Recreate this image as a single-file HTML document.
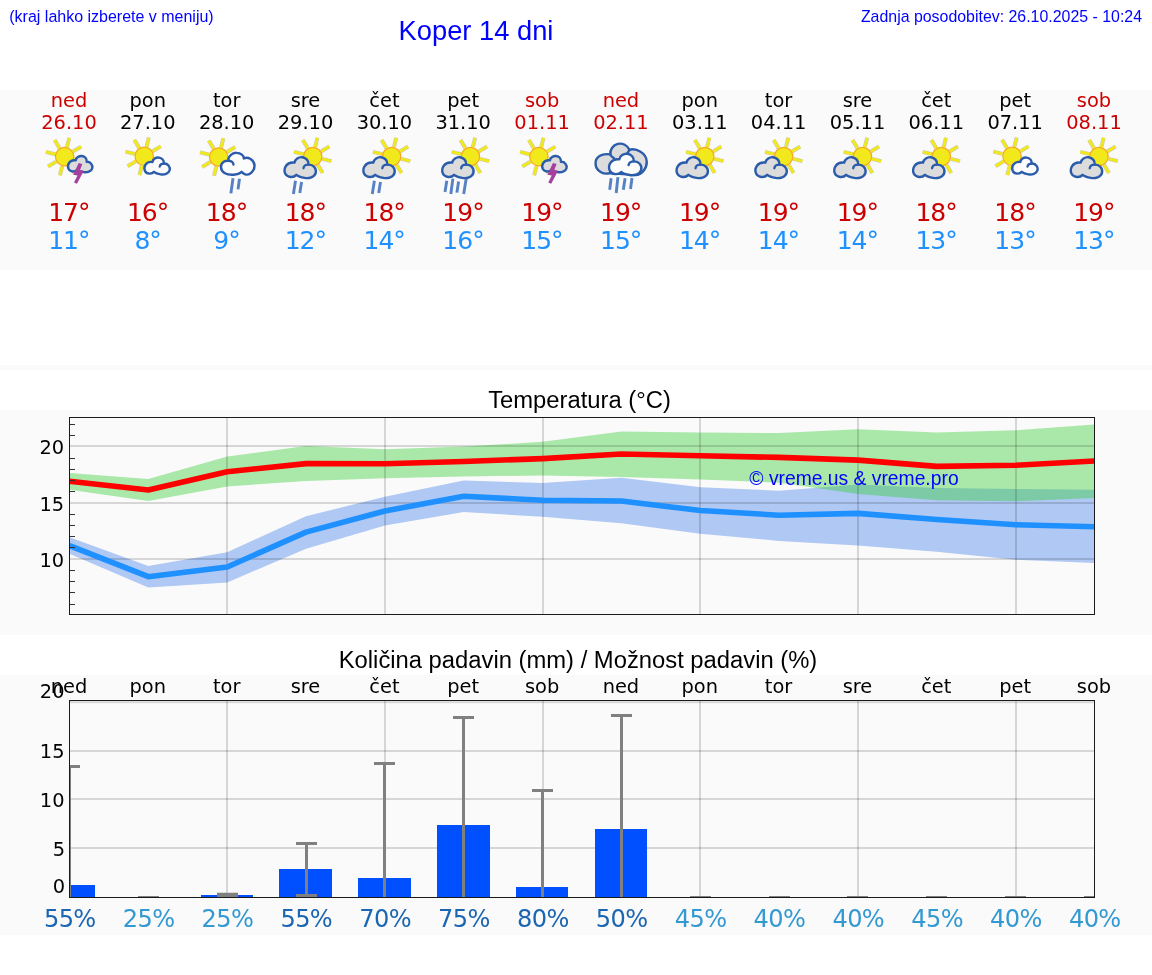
<!DOCTYPE html>
<html lang="sl"><head><meta charset="utf-8"><title>Koper 14 dni</title>
<style>html,body{margin:0;padding:0;background:#fff}svg{display:block}</style></head><body>
<svg width="1152" height="975" viewBox="0 0 1152 975">
<rect width="1152" height="975" fill="#fff"/>
<rect x="0" y="90" width="1152" height="180" fill="#fafafa"/>
<rect x="0" y="365" width="1152" height="5" fill="#fafafa"/>
<rect x="0" y="410" width="1152" height="225" fill="#fafafa"/>
<rect x="0" y="675" width="1152" height="260" fill="#fafafa"/>
<text x="9.3" y="20.96" transform="scale(1,1.04)" font-family="Liberation Sans, Arial, sans-serif" font-size="16" fill="#0000ff">(kraj lahko izberete v meniju)</text>
<text x="476" y="38.37" transform="scale(1,1.04)" font-family="Liberation Sans, Arial, sans-serif" font-size="27.3" fill="#0000ff" text-anchor="middle">Koper 14 dni</text>
<text x="1142" y="20.87" transform="scale(1,1.04)" font-family="Liberation Sans, Arial, sans-serif" font-size="15.9" fill="#0000ff" text-anchor="end">Zadnja posodobitev: 26.10.2025 - 10:24</text>
<text x="69.0" y="107" font-family="DejaVu Sans, Liberation Sans, sans-serif" font-size="19.4" fill="#cc0000" text-anchor="middle">ned</text>
<text x="69.0" y="129" font-family="DejaVu Sans, Liberation Sans, sans-serif" font-size="19.4" fill="#cc0000" text-anchor="middle">26.10</text>
<text x="68.8" y="221.2" font-family="DejaVu Sans, Liberation Sans, sans-serif" font-size="25" letter-spacing="-1" fill="#cc0000" text-anchor="middle">17°</text>
<text x="68.8" y="249" font-family="DejaVu Sans, Liberation Sans, sans-serif" font-size="25" letter-spacing="-1" fill="#1e90ff" text-anchor="middle">11°</text>
<text x="147.8" y="107" font-family="DejaVu Sans, Liberation Sans, sans-serif" font-size="19.4" fill="#000" text-anchor="middle">pon</text>
<text x="147.8" y="129" font-family="DejaVu Sans, Liberation Sans, sans-serif" font-size="19.4" fill="#000" text-anchor="middle">27.10</text>
<text x="147.6" y="221.2" font-family="DejaVu Sans, Liberation Sans, sans-serif" font-size="25" letter-spacing="-1" fill="#cc0000" text-anchor="middle">16°</text>
<text x="147.6" y="249" font-family="DejaVu Sans, Liberation Sans, sans-serif" font-size="25" letter-spacing="-1" fill="#1e90ff" text-anchor="middle">8°</text>
<text x="226.7" y="107" font-family="DejaVu Sans, Liberation Sans, sans-serif" font-size="19.4" fill="#000" text-anchor="middle">tor</text>
<text x="226.7" y="129" font-family="DejaVu Sans, Liberation Sans, sans-serif" font-size="19.4" fill="#000" text-anchor="middle">28.10</text>
<text x="226.5" y="221.2" font-family="DejaVu Sans, Liberation Sans, sans-serif" font-size="25" letter-spacing="-1" fill="#cc0000" text-anchor="middle">18°</text>
<text x="226.5" y="249" font-family="DejaVu Sans, Liberation Sans, sans-serif" font-size="25" letter-spacing="-1" fill="#1e90ff" text-anchor="middle">9°</text>
<text x="305.5" y="107" font-family="DejaVu Sans, Liberation Sans, sans-serif" font-size="19.4" fill="#000" text-anchor="middle">sre</text>
<text x="305.5" y="129" font-family="DejaVu Sans, Liberation Sans, sans-serif" font-size="19.4" fill="#000" text-anchor="middle">29.10</text>
<text x="305.3" y="221.2" font-family="DejaVu Sans, Liberation Sans, sans-serif" font-size="25" letter-spacing="-1" fill="#cc0000" text-anchor="middle">18°</text>
<text x="305.3" y="249" font-family="DejaVu Sans, Liberation Sans, sans-serif" font-size="25" letter-spacing="-1" fill="#1e90ff" text-anchor="middle">12°</text>
<text x="384.4" y="107" font-family="DejaVu Sans, Liberation Sans, sans-serif" font-size="19.4" fill="#000" text-anchor="middle">čet</text>
<text x="384.4" y="129" font-family="DejaVu Sans, Liberation Sans, sans-serif" font-size="19.4" fill="#000" text-anchor="middle">30.10</text>
<text x="384.2" y="221.2" font-family="DejaVu Sans, Liberation Sans, sans-serif" font-size="25" letter-spacing="-1" fill="#cc0000" text-anchor="middle">18°</text>
<text x="384.2" y="249" font-family="DejaVu Sans, Liberation Sans, sans-serif" font-size="25" letter-spacing="-1" fill="#1e90ff" text-anchor="middle">14°</text>
<text x="463.2" y="107" font-family="DejaVu Sans, Liberation Sans, sans-serif" font-size="19.4" fill="#000" text-anchor="middle">pet</text>
<text x="463.2" y="129" font-family="DejaVu Sans, Liberation Sans, sans-serif" font-size="19.4" fill="#000" text-anchor="middle">31.10</text>
<text x="463.0" y="221.2" font-family="DejaVu Sans, Liberation Sans, sans-serif" font-size="25" letter-spacing="-1" fill="#cc0000" text-anchor="middle">19°</text>
<text x="463.0" y="249" font-family="DejaVu Sans, Liberation Sans, sans-serif" font-size="25" letter-spacing="-1" fill="#1e90ff" text-anchor="middle">16°</text>
<text x="542.1" y="107" font-family="DejaVu Sans, Liberation Sans, sans-serif" font-size="19.4" fill="#cc0000" text-anchor="middle">sob</text>
<text x="542.1" y="129" font-family="DejaVu Sans, Liberation Sans, sans-serif" font-size="19.4" fill="#cc0000" text-anchor="middle">01.11</text>
<text x="541.9" y="221.2" font-family="DejaVu Sans, Liberation Sans, sans-serif" font-size="25" letter-spacing="-1" fill="#cc0000" text-anchor="middle">19°</text>
<text x="541.9" y="249" font-family="DejaVu Sans, Liberation Sans, sans-serif" font-size="25" letter-spacing="-1" fill="#1e90ff" text-anchor="middle">15°</text>
<text x="620.9" y="107" font-family="DejaVu Sans, Liberation Sans, sans-serif" font-size="19.4" fill="#cc0000" text-anchor="middle">ned</text>
<text x="620.9" y="129" font-family="DejaVu Sans, Liberation Sans, sans-serif" font-size="19.4" fill="#cc0000" text-anchor="middle">02.11</text>
<text x="620.7" y="221.2" font-family="DejaVu Sans, Liberation Sans, sans-serif" font-size="25" letter-spacing="-1" fill="#cc0000" text-anchor="middle">19°</text>
<text x="620.7" y="249" font-family="DejaVu Sans, Liberation Sans, sans-serif" font-size="25" letter-spacing="-1" fill="#1e90ff" text-anchor="middle">15°</text>
<text x="699.8" y="107" font-family="DejaVu Sans, Liberation Sans, sans-serif" font-size="19.4" fill="#000" text-anchor="middle">pon</text>
<text x="699.8" y="129" font-family="DejaVu Sans, Liberation Sans, sans-serif" font-size="19.4" fill="#000" text-anchor="middle">03.11</text>
<text x="699.6" y="221.2" font-family="DejaVu Sans, Liberation Sans, sans-serif" font-size="25" letter-spacing="-1" fill="#cc0000" text-anchor="middle">19°</text>
<text x="699.6" y="249" font-family="DejaVu Sans, Liberation Sans, sans-serif" font-size="25" letter-spacing="-1" fill="#1e90ff" text-anchor="middle">14°</text>
<text x="778.6" y="107" font-family="DejaVu Sans, Liberation Sans, sans-serif" font-size="19.4" fill="#000" text-anchor="middle">tor</text>
<text x="778.6" y="129" font-family="DejaVu Sans, Liberation Sans, sans-serif" font-size="19.4" fill="#000" text-anchor="middle">04.11</text>
<text x="778.4" y="221.2" font-family="DejaVu Sans, Liberation Sans, sans-serif" font-size="25" letter-spacing="-1" fill="#cc0000" text-anchor="middle">19°</text>
<text x="778.4" y="249" font-family="DejaVu Sans, Liberation Sans, sans-serif" font-size="25" letter-spacing="-1" fill="#1e90ff" text-anchor="middle">14°</text>
<text x="857.5" y="107" font-family="DejaVu Sans, Liberation Sans, sans-serif" font-size="19.4" fill="#000" text-anchor="middle">sre</text>
<text x="857.5" y="129" font-family="DejaVu Sans, Liberation Sans, sans-serif" font-size="19.4" fill="#000" text-anchor="middle">05.11</text>
<text x="857.3" y="221.2" font-family="DejaVu Sans, Liberation Sans, sans-serif" font-size="25" letter-spacing="-1" fill="#cc0000" text-anchor="middle">19°</text>
<text x="857.3" y="249" font-family="DejaVu Sans, Liberation Sans, sans-serif" font-size="25" letter-spacing="-1" fill="#1e90ff" text-anchor="middle">14°</text>
<text x="936.3" y="107" font-family="DejaVu Sans, Liberation Sans, sans-serif" font-size="19.4" fill="#000" text-anchor="middle">čet</text>
<text x="936.3" y="129" font-family="DejaVu Sans, Liberation Sans, sans-serif" font-size="19.4" fill="#000" text-anchor="middle">06.11</text>
<text x="936.1" y="221.2" font-family="DejaVu Sans, Liberation Sans, sans-serif" font-size="25" letter-spacing="-1" fill="#cc0000" text-anchor="middle">18°</text>
<text x="936.1" y="249" font-family="DejaVu Sans, Liberation Sans, sans-serif" font-size="25" letter-spacing="-1" fill="#1e90ff" text-anchor="middle">13°</text>
<text x="1015.2" y="107" font-family="DejaVu Sans, Liberation Sans, sans-serif" font-size="19.4" fill="#000" text-anchor="middle">pet</text>
<text x="1015.2" y="129" font-family="DejaVu Sans, Liberation Sans, sans-serif" font-size="19.4" fill="#000" text-anchor="middle">07.11</text>
<text x="1015.0" y="221.2" font-family="DejaVu Sans, Liberation Sans, sans-serif" font-size="25" letter-spacing="-1" fill="#cc0000" text-anchor="middle">18°</text>
<text x="1015.0" y="249" font-family="DejaVu Sans, Liberation Sans, sans-serif" font-size="25" letter-spacing="-1" fill="#1e90ff" text-anchor="middle">13°</text>
<text x="1094.0" y="107" font-family="DejaVu Sans, Liberation Sans, sans-serif" font-size="19.4" fill="#cc0000" text-anchor="middle">sob</text>
<text x="1094.0" y="129" font-family="DejaVu Sans, Liberation Sans, sans-serif" font-size="19.4" fill="#cc0000" text-anchor="middle">08.11</text>
<text x="1093.8" y="221.2" font-family="DejaVu Sans, Liberation Sans, sans-serif" font-size="25" letter-spacing="-1" fill="#cc0000" text-anchor="middle">19°</text>
<text x="1093.8" y="249" font-family="DejaVu Sans, Liberation Sans, sans-serif" font-size="25" letter-spacing="-1" fill="#1e90ff" text-anchor="middle">13°</text>
<line x1="74.11" y1="158.97" x2="83.33" y2="161.27" stroke="#9a9a88" stroke-opacity="0.5" stroke-width="4.0"/><line x1="74.11" y1="158.97" x2="83.33" y2="161.27" stroke="#f1e91b" stroke-width="2.9"/><line x1="69.65" y1="165.00" x2="74.54" y2="173.14" stroke="#9a9a88" stroke-opacity="0.5" stroke-width="4.0"/><line x1="69.65" y1="165.00" x2="74.54" y2="173.14" stroke="#f1e91b" stroke-width="2.9"/><line x1="62.23" y1="166.11" x2="59.93" y2="175.33" stroke="#9a9a88" stroke-opacity="0.5" stroke-width="4.0"/><line x1="62.23" y1="166.11" x2="59.93" y2="175.33" stroke="#f1e91b" stroke-width="2.9"/><line x1="56.20" y1="161.65" x2="48.06" y2="166.54" stroke="#9a9a88" stroke-opacity="0.5" stroke-width="4.0"/><line x1="56.20" y1="161.65" x2="48.06" y2="166.54" stroke="#f1e91b" stroke-width="2.9"/><line x1="55.09" y1="154.23" x2="45.87" y2="151.93" stroke="#9a9a88" stroke-opacity="0.5" stroke-width="4.0"/><line x1="55.09" y1="154.23" x2="45.87" y2="151.93" stroke="#f1e91b" stroke-width="2.9"/><line x1="59.55" y1="148.20" x2="54.66" y2="140.06" stroke="#9a9a88" stroke-opacity="0.5" stroke-width="4.0"/><line x1="59.55" y1="148.20" x2="54.66" y2="140.06" stroke="#f1e91b" stroke-width="2.9"/><line x1="66.97" y1="147.09" x2="69.27" y2="137.87" stroke="#9a9a88" stroke-opacity="0.5" stroke-width="4.0"/><line x1="66.97" y1="147.09" x2="69.27" y2="137.87" stroke="#f1e91b" stroke-width="2.9"/><line x1="73.00" y1="151.55" x2="81.14" y2="146.66" stroke="#9a9a88" stroke-opacity="0.5" stroke-width="4.0"/><line x1="73.00" y1="151.55" x2="81.14" y2="146.66" stroke="#f1e91b" stroke-width="2.9"/><circle cx="64.60" cy="156.60" r="9.2" fill="#f1e91b" stroke="#f6a821" stroke-width="1.2"/><g transform="translate(58.96,136.34) scale(0.05599)" stroke="#2b5cab" stroke-width="42.9" stroke-linejoin="round" stroke-linecap="round"><path d="M325 598C290 640 200 640 170 580C140 510 190 410 300 428C305 380 360 345 410 352C460 358 500 400 495 455C560 450 610 510 595 570C580 630 500 650 440 640C390 632 350 620 325 598Z" fill="#dcdcdc"/></g><polygon points="78.68,162.98 82.37,164.02 80.03,170.05 83.85,170.79 76.95,183.84 74.00,182.61 77.45,175.41 73.14,174.79" fill="#a5409f"/>
<line x1="153.71" y1="158.67" x2="162.93" y2="160.97" stroke="#9a9a88" stroke-opacity="0.5" stroke-width="4.0"/><line x1="153.71" y1="158.67" x2="162.93" y2="160.97" stroke="#f1e91b" stroke-width="2.9"/><line x1="149.25" y1="164.70" x2="154.14" y2="172.84" stroke="#9a9a88" stroke-opacity="0.5" stroke-width="4.0"/><line x1="149.25" y1="164.70" x2="154.14" y2="172.84" stroke="#f1e91b" stroke-width="2.9"/><line x1="141.83" y1="165.81" x2="139.53" y2="175.03" stroke="#9a9a88" stroke-opacity="0.5" stroke-width="4.0"/><line x1="141.83" y1="165.81" x2="139.53" y2="175.03" stroke="#f1e91b" stroke-width="2.9"/><line x1="135.80" y1="161.35" x2="127.66" y2="166.24" stroke="#9a9a88" stroke-opacity="0.5" stroke-width="4.0"/><line x1="135.80" y1="161.35" x2="127.66" y2="166.24" stroke="#f1e91b" stroke-width="2.9"/><line x1="134.69" y1="153.93" x2="125.47" y2="151.63" stroke="#9a9a88" stroke-opacity="0.5" stroke-width="4.0"/><line x1="134.69" y1="153.93" x2="125.47" y2="151.63" stroke="#f1e91b" stroke-width="2.9"/><line x1="139.15" y1="147.90" x2="134.26" y2="139.76" stroke="#9a9a88" stroke-opacity="0.5" stroke-width="4.0"/><line x1="139.15" y1="147.90" x2="134.26" y2="139.76" stroke="#f1e91b" stroke-width="2.9"/><line x1="146.57" y1="146.79" x2="148.87" y2="137.57" stroke="#9a9a88" stroke-opacity="0.5" stroke-width="4.0"/><line x1="146.57" y1="146.79" x2="148.87" y2="137.57" stroke="#f1e91b" stroke-width="2.9"/><line x1="152.60" y1="151.25" x2="160.74" y2="146.36" stroke="#9a9a88" stroke-opacity="0.5" stroke-width="4.0"/><line x1="152.60" y1="151.25" x2="160.74" y2="146.36" stroke="#f1e91b" stroke-width="2.9"/><circle cx="144.20" cy="156.30" r="9.2" fill="#f1e91b" stroke="#f6a821" stroke-width="1.2"/><g transform="translate(135.06,137.12) scale(0.05815)" stroke="#2b5cab" stroke-width="41.3" stroke-linejoin="round" stroke-linecap="round"><path d="M325 598C290 640 200 640 170 580C140 510 190 410 300 428C305 380 360 345 410 352C460 358 500 400 495 455C560 450 610 510 595 570C580 630 500 650 440 640C390 632 350 620 325 598Z" fill="#fcfcfc"/><path d="M495 455C465 455 428 470 425 505" fill="none"/></g>
<line x1="228.20" y1="159.37" x2="237.42" y2="161.67" stroke="#9a9a88" stroke-opacity="0.5" stroke-width="4.0"/><line x1="228.20" y1="159.37" x2="237.42" y2="161.67" stroke="#f1e91b" stroke-width="2.9"/><line x1="223.74" y1="165.40" x2="228.63" y2="173.54" stroke="#9a9a88" stroke-opacity="0.5" stroke-width="4.0"/><line x1="223.74" y1="165.40" x2="228.63" y2="173.54" stroke="#f1e91b" stroke-width="2.9"/><line x1="216.32" y1="166.51" x2="214.02" y2="175.73" stroke="#9a9a88" stroke-opacity="0.5" stroke-width="4.0"/><line x1="216.32" y1="166.51" x2="214.02" y2="175.73" stroke="#f1e91b" stroke-width="2.9"/><line x1="210.29" y1="162.05" x2="202.15" y2="166.94" stroke="#9a9a88" stroke-opacity="0.5" stroke-width="4.0"/><line x1="210.29" y1="162.05" x2="202.15" y2="166.94" stroke="#f1e91b" stroke-width="2.9"/><line x1="209.18" y1="154.63" x2="199.97" y2="152.33" stroke="#9a9a88" stroke-opacity="0.5" stroke-width="4.0"/><line x1="209.18" y1="154.63" x2="199.97" y2="152.33" stroke="#f1e91b" stroke-width="2.9"/><line x1="213.64" y1="148.60" x2="208.75" y2="140.46" stroke="#9a9a88" stroke-opacity="0.5" stroke-width="4.0"/><line x1="213.64" y1="148.60" x2="208.75" y2="140.46" stroke="#f1e91b" stroke-width="2.9"/><line x1="221.06" y1="147.49" x2="223.36" y2="138.27" stroke="#9a9a88" stroke-opacity="0.5" stroke-width="4.0"/><line x1="221.06" y1="147.49" x2="223.36" y2="138.27" stroke="#f1e91b" stroke-width="2.9"/><line x1="227.09" y1="151.95" x2="235.24" y2="147.06" stroke="#9a9a88" stroke-opacity="0.5" stroke-width="4.0"/><line x1="227.09" y1="151.95" x2="235.24" y2="147.06" stroke="#f1e91b" stroke-width="2.9"/><circle cx="218.69" cy="157.00" r="9.2" fill="#f1e91b" stroke="#f6a821" stroke-width="1.2"/><g transform="translate(195.03,132.02) scale(0.07179)" stroke="#2b5cab" stroke-width="33.4" stroke-linejoin="round" stroke-linecap="round"><path d="M650 555C600 600 480 610 410 570C350 535 345 450 400 415C420 402 445 398 465 400C455 340 520 285 580 290C640 292 680 330 680 368C740 340 820 390 828 460C835 540 760 610 700 590C680 582 660 570 650 555Z" fill="#fcfcfc"/><path d="M465 400C500 400 535 420 535 452" fill="none"/></g><line x1="233.0" y1="178.3" x2="230.9" y2="193.4" stroke="#3f6fbb" stroke-opacity="0.88" stroke-width="2.9"/><line x1="239.5" y1="178.7" x2="238.0" y2="189.4" stroke="#3f6fbb" stroke-opacity="0.88" stroke-width="2.9"/>
<line x1="322.25" y1="158.87" x2="331.47" y2="161.17" stroke="#9a9a88" stroke-opacity="0.5" stroke-width="4.0"/><line x1="322.25" y1="158.87" x2="331.47" y2="161.17" stroke="#f1e91b" stroke-width="2.9"/><line x1="317.79" y1="164.90" x2="322.68" y2="173.04" stroke="#9a9a88" stroke-opacity="0.5" stroke-width="4.0"/><line x1="317.79" y1="164.90" x2="322.68" y2="173.04" stroke="#f1e91b" stroke-width="2.9"/><line x1="310.37" y1="166.01" x2="308.07" y2="175.23" stroke="#9a9a88" stroke-opacity="0.5" stroke-width="4.0"/><line x1="310.37" y1="166.01" x2="308.07" y2="175.23" stroke="#f1e91b" stroke-width="2.9"/><line x1="304.34" y1="161.55" x2="296.20" y2="166.44" stroke="#9a9a88" stroke-opacity="0.5" stroke-width="4.0"/><line x1="304.34" y1="161.55" x2="296.20" y2="166.44" stroke="#f1e91b" stroke-width="2.9"/><line x1="303.23" y1="154.13" x2="294.01" y2="151.83" stroke="#9a9a88" stroke-opacity="0.5" stroke-width="4.0"/><line x1="303.23" y1="154.13" x2="294.01" y2="151.83" stroke="#f1e91b" stroke-width="2.9"/><line x1="307.69" y1="148.10" x2="302.80" y2="139.96" stroke="#9a9a88" stroke-opacity="0.5" stroke-width="4.0"/><line x1="307.69" y1="148.10" x2="302.80" y2="139.96" stroke="#f1e91b" stroke-width="2.9"/><line x1="315.11" y1="146.99" x2="317.41" y2="137.77" stroke="#9a9a88" stroke-opacity="0.5" stroke-width="4.0"/><line x1="315.11" y1="146.99" x2="317.41" y2="137.77" stroke="#f1e91b" stroke-width="2.9"/><line x1="321.14" y1="151.45" x2="329.28" y2="146.56" stroke="#9a9a88" stroke-opacity="0.5" stroke-width="4.0"/><line x1="321.14" y1="151.45" x2="329.28" y2="146.56" stroke="#f1e91b" stroke-width="2.9"/><circle cx="312.74" cy="156.50" r="9.2" fill="#f1e91b" stroke="#f6a821" stroke-width="1.2"/><g transform="translate(272.99,131.95) scale(0.07179)" stroke="#2b5cab" stroke-width="33.4" stroke-linejoin="round" stroke-linecap="round"><path d="M325 598C290 640 200 640 170 580C140 510 190 410 300 428C305 380 360 345 410 352C460 358 500 400 495 455C560 450 610 510 595 570C580 630 500 650 440 640C390 632 350 620 325 598Z" fill="#dcdcdc"/><path d="M495 455C465 455 428 470 425 505" fill="none"/></g><line x1="295.5" y1="180.8" x2="293.4" y2="194.1" stroke="#3f6fbb" stroke-opacity="0.88" stroke-width="2.9"/><line x1="301.6" y1="181.9" x2="299.8" y2="193.0" stroke="#3f6fbb" stroke-opacity="0.88" stroke-width="2.9"/>
<line x1="401.09" y1="158.87" x2="410.31" y2="161.17" stroke="#9a9a88" stroke-opacity="0.5" stroke-width="4.0"/><line x1="401.09" y1="158.87" x2="410.31" y2="161.17" stroke="#f1e91b" stroke-width="2.9"/><line x1="396.63" y1="164.90" x2="401.52" y2="173.04" stroke="#9a9a88" stroke-opacity="0.5" stroke-width="4.0"/><line x1="396.63" y1="164.90" x2="401.52" y2="173.04" stroke="#f1e91b" stroke-width="2.9"/><line x1="389.21" y1="166.01" x2="386.92" y2="175.23" stroke="#9a9a88" stroke-opacity="0.5" stroke-width="4.0"/><line x1="389.21" y1="166.01" x2="386.92" y2="175.23" stroke="#f1e91b" stroke-width="2.9"/><line x1="383.18" y1="161.55" x2="375.04" y2="166.44" stroke="#9a9a88" stroke-opacity="0.5" stroke-width="4.0"/><line x1="383.18" y1="161.55" x2="375.04" y2="166.44" stroke="#f1e91b" stroke-width="2.9"/><line x1="382.08" y1="154.13" x2="372.86" y2="151.83" stroke="#9a9a88" stroke-opacity="0.5" stroke-width="4.0"/><line x1="382.08" y1="154.13" x2="372.86" y2="151.83" stroke="#f1e91b" stroke-width="2.9"/><line x1="386.54" y1="148.10" x2="381.64" y2="139.96" stroke="#9a9a88" stroke-opacity="0.5" stroke-width="4.0"/><line x1="386.54" y1="148.10" x2="381.64" y2="139.96" stroke="#f1e91b" stroke-width="2.9"/><line x1="393.96" y1="146.99" x2="396.25" y2="137.77" stroke="#9a9a88" stroke-opacity="0.5" stroke-width="4.0"/><line x1="393.96" y1="146.99" x2="396.25" y2="137.77" stroke="#f1e91b" stroke-width="2.9"/><line x1="399.98" y1="151.45" x2="408.13" y2="146.56" stroke="#9a9a88" stroke-opacity="0.5" stroke-width="4.0"/><line x1="399.98" y1="151.45" x2="408.13" y2="146.56" stroke="#f1e91b" stroke-width="2.9"/><circle cx="391.58" cy="156.50" r="9.2" fill="#f1e91b" stroke="#f6a821" stroke-width="1.2"/><g transform="translate(351.83,131.95) scale(0.07179)" stroke="#2b5cab" stroke-width="33.4" stroke-linejoin="round" stroke-linecap="round"><path d="M325 598C290 640 200 640 170 580C140 510 190 410 300 428C305 380 360 345 410 352C460 358 500 400 495 455C560 450 610 510 595 570C580 630 500 650 440 640C390 632 350 620 325 598Z" fill="#dcdcdc"/><path d="M495 455C465 455 428 470 425 505" fill="none"/></g><line x1="374.4" y1="180.8" x2="372.3" y2="194.1" stroke="#3f6fbb" stroke-opacity="0.88" stroke-width="2.9"/><line x1="380.5" y1="181.9" x2="378.7" y2="193.0" stroke="#3f6fbb" stroke-opacity="0.88" stroke-width="2.9"/>
<line x1="479.94" y1="158.87" x2="489.16" y2="161.17" stroke="#9a9a88" stroke-opacity="0.5" stroke-width="4.0"/><line x1="479.94" y1="158.87" x2="489.16" y2="161.17" stroke="#f1e91b" stroke-width="2.9"/><line x1="475.48" y1="164.90" x2="480.37" y2="173.04" stroke="#9a9a88" stroke-opacity="0.5" stroke-width="4.0"/><line x1="475.48" y1="164.90" x2="480.37" y2="173.04" stroke="#f1e91b" stroke-width="2.9"/><line x1="468.06" y1="166.01" x2="465.76" y2="175.23" stroke="#9a9a88" stroke-opacity="0.5" stroke-width="4.0"/><line x1="468.06" y1="166.01" x2="465.76" y2="175.23" stroke="#f1e91b" stroke-width="2.9"/><line x1="462.03" y1="161.55" x2="453.89" y2="166.44" stroke="#9a9a88" stroke-opacity="0.5" stroke-width="4.0"/><line x1="462.03" y1="161.55" x2="453.89" y2="166.44" stroke="#f1e91b" stroke-width="2.9"/><line x1="460.92" y1="154.13" x2="451.70" y2="151.83" stroke="#9a9a88" stroke-opacity="0.5" stroke-width="4.0"/><line x1="460.92" y1="154.13" x2="451.70" y2="151.83" stroke="#f1e91b" stroke-width="2.9"/><line x1="465.38" y1="148.10" x2="460.49" y2="139.96" stroke="#9a9a88" stroke-opacity="0.5" stroke-width="4.0"/><line x1="465.38" y1="148.10" x2="460.49" y2="139.96" stroke="#f1e91b" stroke-width="2.9"/><line x1="472.80" y1="146.99" x2="475.10" y2="137.77" stroke="#9a9a88" stroke-opacity="0.5" stroke-width="4.0"/><line x1="472.80" y1="146.99" x2="475.10" y2="137.77" stroke="#f1e91b" stroke-width="2.9"/><line x1="478.83" y1="151.45" x2="486.97" y2="146.56" stroke="#9a9a88" stroke-opacity="0.5" stroke-width="4.0"/><line x1="478.83" y1="151.45" x2="486.97" y2="146.56" stroke="#f1e91b" stroke-width="2.9"/><circle cx="470.43" cy="156.50" r="9.2" fill="#f1e91b" stroke="#f6a821" stroke-width="1.2"/><g transform="translate(430.68,131.95) scale(0.07179)" stroke="#2b5cab" stroke-width="33.4" stroke-linejoin="round" stroke-linecap="round"><path d="M325 598C290 640 200 640 170 580C140 510 190 410 300 428C305 380 360 345 410 352C460 358 500 400 495 455C560 450 610 510 595 570C580 630 500 650 440 640C390 632 350 620 325 598Z" fill="#dcdcdc"/><path d="M495 455C465 455 428 470 425 505" fill="none"/></g><line x1="446.8" y1="180.8" x2="445.0" y2="191.9" stroke="#3f6fbb" stroke-opacity="0.88" stroke-width="2.9"/><line x1="452.9" y1="178.6" x2="450.8" y2="194.0" stroke="#3f6fbb" stroke-opacity="0.88" stroke-width="2.9"/><line x1="458.6" y1="181.5" x2="456.9" y2="192.6" stroke="#3f6fbb" stroke-opacity="0.88" stroke-width="2.9"/><line x1="466.2" y1="178.6" x2="463.7" y2="194.0" stroke="#3f6fbb" stroke-opacity="0.88" stroke-width="2.9"/>
<line x1="548.36" y1="158.97" x2="557.58" y2="161.27" stroke="#9a9a88" stroke-opacity="0.5" stroke-width="4.0"/><line x1="548.36" y1="158.97" x2="557.58" y2="161.27" stroke="#f1e91b" stroke-width="2.9"/><line x1="543.90" y1="165.00" x2="548.79" y2="173.14" stroke="#9a9a88" stroke-opacity="0.5" stroke-width="4.0"/><line x1="543.90" y1="165.00" x2="548.79" y2="173.14" stroke="#f1e91b" stroke-width="2.9"/><line x1="536.48" y1="166.11" x2="534.18" y2="175.33" stroke="#9a9a88" stroke-opacity="0.5" stroke-width="4.0"/><line x1="536.48" y1="166.11" x2="534.18" y2="175.33" stroke="#f1e91b" stroke-width="2.9"/><line x1="530.45" y1="161.65" x2="522.31" y2="166.54" stroke="#9a9a88" stroke-opacity="0.5" stroke-width="4.0"/><line x1="530.45" y1="161.65" x2="522.31" y2="166.54" stroke="#f1e91b" stroke-width="2.9"/><line x1="529.34" y1="154.23" x2="520.12" y2="151.93" stroke="#9a9a88" stroke-opacity="0.5" stroke-width="4.0"/><line x1="529.34" y1="154.23" x2="520.12" y2="151.93" stroke="#f1e91b" stroke-width="2.9"/><line x1="533.80" y1="148.20" x2="528.91" y2="140.06" stroke="#9a9a88" stroke-opacity="0.5" stroke-width="4.0"/><line x1="533.80" y1="148.20" x2="528.91" y2="140.06" stroke="#f1e91b" stroke-width="2.9"/><line x1="541.22" y1="147.09" x2="543.52" y2="137.87" stroke="#9a9a88" stroke-opacity="0.5" stroke-width="4.0"/><line x1="541.22" y1="147.09" x2="543.52" y2="137.87" stroke="#f1e91b" stroke-width="2.9"/><line x1="547.25" y1="151.55" x2="555.39" y2="146.66" stroke="#9a9a88" stroke-opacity="0.5" stroke-width="4.0"/><line x1="547.25" y1="151.55" x2="555.39" y2="146.66" stroke="#f1e91b" stroke-width="2.9"/><circle cx="538.85" cy="156.60" r="9.2" fill="#f1e91b" stroke="#f6a821" stroke-width="1.2"/><g transform="translate(533.21,136.34) scale(0.05599)" stroke="#2b5cab" stroke-width="42.9" stroke-linejoin="round" stroke-linecap="round"><path d="M325 598C290 640 200 640 170 580C140 510 190 410 300 428C305 380 360 345 410 352C460 358 500 400 495 455C560 450 610 510 595 570C580 630 500 650 440 640C390 632 350 620 325 598Z" fill="#dcdcdc"/></g><polygon points="552.93,162.98 556.62,164.02 554.28,170.05 558.10,170.79 551.20,183.84 548.25,182.61 551.70,175.41 547.39,174.79" fill="#a5409f"/>
<g transform="translate(586.07,132.03) scale(0.07179)" stroke="#2b5cab" stroke-width="33.4" stroke-linejoin="round"><path d="M330 572C250 597 135 548 132 440C129 345 215 293 338 312A138 138 0 0 1 603 247C700 220 840 290 845 410C850 500 780 590 700 600Z" fill="#dcdcdc"/><path d="M338 312C345 335 362 352 388 362M603 247C598 262 590 275 578 288" fill="none" stroke-linecap="round"/></g><g transform="translate(597.17,127.73) scale(0.07394)" stroke="#2b5cab" stroke-width="32.5" stroke-linejoin="round" stroke-linecap="round"><path d="M325 598C290 640 200 640 170 580C140 510 190 410 300 428C305 380 360 345 410 352C460 358 500 400 495 455C560 450 610 510 595 570C580 630 500 650 440 640C390 632 350 620 325 598Z" fill="#fcfcfc"/><path d="M495 455C465 455 428 470 425 505" fill="none"/></g><line x1="611.1" y1="178.3" x2="609.7" y2="189.8" stroke="#3f6fbb" stroke-opacity="0.88" stroke-width="2.9"/><line x1="617.9" y1="177.2" x2="616.2" y2="193.0" stroke="#3f6fbb" stroke-opacity="0.88" stroke-width="2.9"/><line x1="625.1" y1="178.3" x2="623.3" y2="189.8" stroke="#3f6fbb" stroke-opacity="0.88" stroke-width="2.9"/><line x1="632.0" y1="178.0" x2="630.5" y2="189.0" stroke="#3f6fbb" stroke-opacity="0.88" stroke-width="2.9"/>
<line x1="714.28" y1="158.87" x2="723.50" y2="161.17" stroke="#9a9a88" stroke-opacity="0.5" stroke-width="4.0"/><line x1="714.28" y1="158.87" x2="723.50" y2="161.17" stroke="#f1e91b" stroke-width="2.9"/><line x1="709.82" y1="164.90" x2="714.71" y2="173.04" stroke="#9a9a88" stroke-opacity="0.5" stroke-width="4.0"/><line x1="709.82" y1="164.90" x2="714.71" y2="173.04" stroke="#f1e91b" stroke-width="2.9"/><line x1="702.40" y1="166.01" x2="700.10" y2="175.23" stroke="#9a9a88" stroke-opacity="0.5" stroke-width="4.0"/><line x1="702.40" y1="166.01" x2="700.10" y2="175.23" stroke="#f1e91b" stroke-width="2.9"/><line x1="696.37" y1="161.55" x2="688.23" y2="166.44" stroke="#9a9a88" stroke-opacity="0.5" stroke-width="4.0"/><line x1="696.37" y1="161.55" x2="688.23" y2="166.44" stroke="#f1e91b" stroke-width="2.9"/><line x1="695.26" y1="154.13" x2="686.04" y2="151.83" stroke="#9a9a88" stroke-opacity="0.5" stroke-width="4.0"/><line x1="695.26" y1="154.13" x2="686.04" y2="151.83" stroke="#f1e91b" stroke-width="2.9"/><line x1="699.72" y1="148.10" x2="694.83" y2="139.96" stroke="#9a9a88" stroke-opacity="0.5" stroke-width="4.0"/><line x1="699.72" y1="148.10" x2="694.83" y2="139.96" stroke="#f1e91b" stroke-width="2.9"/><line x1="707.14" y1="146.99" x2="709.44" y2="137.77" stroke="#9a9a88" stroke-opacity="0.5" stroke-width="4.0"/><line x1="707.14" y1="146.99" x2="709.44" y2="137.77" stroke="#f1e91b" stroke-width="2.9"/><line x1="713.17" y1="151.45" x2="721.31" y2="146.56" stroke="#9a9a88" stroke-opacity="0.5" stroke-width="4.0"/><line x1="713.17" y1="151.45" x2="721.31" y2="146.56" stroke="#f1e91b" stroke-width="2.9"/><circle cx="704.77" cy="156.50" r="9.2" fill="#f1e91b" stroke="#f6a821" stroke-width="1.2"/><g transform="translate(665.02,131.95) scale(0.07179)" stroke="#2b5cab" stroke-width="33.4" stroke-linejoin="round" stroke-linecap="round"><path d="M325 598C290 640 200 640 170 580C140 510 190 410 300 428C305 380 360 345 410 352C460 358 500 400 495 455C560 450 610 510 595 570C580 630 500 650 440 640C390 632 350 620 325 598Z" fill="#dcdcdc"/><path d="M495 455C465 455 428 470 425 505" fill="none"/></g>
<line x1="793.12" y1="158.87" x2="802.34" y2="161.17" stroke="#9a9a88" stroke-opacity="0.5" stroke-width="4.0"/><line x1="793.12" y1="158.87" x2="802.34" y2="161.17" stroke="#f1e91b" stroke-width="2.9"/><line x1="788.66" y1="164.90" x2="793.56" y2="173.04" stroke="#9a9a88" stroke-opacity="0.5" stroke-width="4.0"/><line x1="788.66" y1="164.90" x2="793.56" y2="173.04" stroke="#f1e91b" stroke-width="2.9"/><line x1="781.24" y1="166.01" x2="778.95" y2="175.23" stroke="#9a9a88" stroke-opacity="0.5" stroke-width="4.0"/><line x1="781.24" y1="166.01" x2="778.95" y2="175.23" stroke="#f1e91b" stroke-width="2.9"/><line x1="775.22" y1="161.55" x2="767.07" y2="166.44" stroke="#9a9a88" stroke-opacity="0.5" stroke-width="4.0"/><line x1="775.22" y1="161.55" x2="767.07" y2="166.44" stroke="#f1e91b" stroke-width="2.9"/><line x1="774.11" y1="154.13" x2="764.89" y2="151.83" stroke="#9a9a88" stroke-opacity="0.5" stroke-width="4.0"/><line x1="774.11" y1="154.13" x2="764.89" y2="151.83" stroke="#f1e91b" stroke-width="2.9"/><line x1="778.57" y1="148.10" x2="773.68" y2="139.96" stroke="#9a9a88" stroke-opacity="0.5" stroke-width="4.0"/><line x1="778.57" y1="148.10" x2="773.68" y2="139.96" stroke="#f1e91b" stroke-width="2.9"/><line x1="785.99" y1="146.99" x2="788.28" y2="137.77" stroke="#9a9a88" stroke-opacity="0.5" stroke-width="4.0"/><line x1="785.99" y1="146.99" x2="788.28" y2="137.77" stroke="#f1e91b" stroke-width="2.9"/><line x1="792.02" y1="151.45" x2="800.16" y2="146.56" stroke="#9a9a88" stroke-opacity="0.5" stroke-width="4.0"/><line x1="792.02" y1="151.45" x2="800.16" y2="146.56" stroke="#f1e91b" stroke-width="2.9"/><circle cx="783.62" cy="156.50" r="9.2" fill="#f1e91b" stroke="#f6a821" stroke-width="1.2"/><g transform="translate(743.87,131.95) scale(0.07179)" stroke="#2b5cab" stroke-width="33.4" stroke-linejoin="round" stroke-linecap="round"><path d="M325 598C290 640 200 640 170 580C140 510 190 410 300 428C305 380 360 345 410 352C460 358 500 400 495 455C560 450 610 510 595 570C580 630 500 650 440 640C390 632 350 620 325 598Z" fill="#dcdcdc"/><path d="M495 455C465 455 428 470 425 505" fill="none"/></g>
<line x1="871.97" y1="158.87" x2="881.19" y2="161.17" stroke="#9a9a88" stroke-opacity="0.5" stroke-width="4.0"/><line x1="871.97" y1="158.87" x2="881.19" y2="161.17" stroke="#f1e91b" stroke-width="2.9"/><line x1="867.51" y1="164.90" x2="872.40" y2="173.04" stroke="#9a9a88" stroke-opacity="0.5" stroke-width="4.0"/><line x1="867.51" y1="164.90" x2="872.40" y2="173.04" stroke="#f1e91b" stroke-width="2.9"/><line x1="860.09" y1="166.01" x2="857.79" y2="175.23" stroke="#9a9a88" stroke-opacity="0.5" stroke-width="4.0"/><line x1="860.09" y1="166.01" x2="857.79" y2="175.23" stroke="#f1e91b" stroke-width="2.9"/><line x1="854.06" y1="161.55" x2="845.92" y2="166.44" stroke="#9a9a88" stroke-opacity="0.5" stroke-width="4.0"/><line x1="854.06" y1="161.55" x2="845.92" y2="166.44" stroke="#f1e91b" stroke-width="2.9"/><line x1="852.95" y1="154.13" x2="843.73" y2="151.83" stroke="#9a9a88" stroke-opacity="0.5" stroke-width="4.0"/><line x1="852.95" y1="154.13" x2="843.73" y2="151.83" stroke="#f1e91b" stroke-width="2.9"/><line x1="857.41" y1="148.10" x2="852.52" y2="139.96" stroke="#9a9a88" stroke-opacity="0.5" stroke-width="4.0"/><line x1="857.41" y1="148.10" x2="852.52" y2="139.96" stroke="#f1e91b" stroke-width="2.9"/><line x1="864.83" y1="146.99" x2="867.13" y2="137.77" stroke="#9a9a88" stroke-opacity="0.5" stroke-width="4.0"/><line x1="864.83" y1="146.99" x2="867.13" y2="137.77" stroke="#f1e91b" stroke-width="2.9"/><line x1="870.86" y1="151.45" x2="879.00" y2="146.56" stroke="#9a9a88" stroke-opacity="0.5" stroke-width="4.0"/><line x1="870.86" y1="151.45" x2="879.00" y2="146.56" stroke="#f1e91b" stroke-width="2.9"/><circle cx="862.46" cy="156.50" r="9.2" fill="#f1e91b" stroke="#f6a821" stroke-width="1.2"/><g transform="translate(822.71,131.95) scale(0.07179)" stroke="#2b5cab" stroke-width="33.4" stroke-linejoin="round" stroke-linecap="round"><path d="M325 598C290 640 200 640 170 580C140 510 190 410 300 428C305 380 360 345 410 352C460 358 500 400 495 455C560 450 610 510 595 570C580 630 500 650 440 640C390 632 350 620 325 598Z" fill="#dcdcdc"/><path d="M495 455C465 455 428 470 425 505" fill="none"/></g>
<line x1="950.82" y1="158.87" x2="960.03" y2="161.17" stroke="#9a9a88" stroke-opacity="0.5" stroke-width="4.0"/><line x1="950.82" y1="158.87" x2="960.03" y2="161.17" stroke="#f1e91b" stroke-width="2.9"/><line x1="946.36" y1="164.90" x2="951.25" y2="173.04" stroke="#9a9a88" stroke-opacity="0.5" stroke-width="4.0"/><line x1="946.36" y1="164.90" x2="951.25" y2="173.04" stroke="#f1e91b" stroke-width="2.9"/><line x1="938.94" y1="166.01" x2="936.64" y2="175.23" stroke="#9a9a88" stroke-opacity="0.5" stroke-width="4.0"/><line x1="938.94" y1="166.01" x2="936.64" y2="175.23" stroke="#f1e91b" stroke-width="2.9"/><line x1="932.91" y1="161.55" x2="924.76" y2="166.44" stroke="#9a9a88" stroke-opacity="0.5" stroke-width="4.0"/><line x1="932.91" y1="161.55" x2="924.76" y2="166.44" stroke="#f1e91b" stroke-width="2.9"/><line x1="931.80" y1="154.13" x2="922.58" y2="151.83" stroke="#9a9a88" stroke-opacity="0.5" stroke-width="4.0"/><line x1="931.80" y1="154.13" x2="922.58" y2="151.83" stroke="#f1e91b" stroke-width="2.9"/><line x1="936.26" y1="148.10" x2="931.37" y2="139.96" stroke="#9a9a88" stroke-opacity="0.5" stroke-width="4.0"/><line x1="936.26" y1="148.10" x2="931.37" y2="139.96" stroke="#f1e91b" stroke-width="2.9"/><line x1="943.68" y1="146.99" x2="945.98" y2="137.77" stroke="#9a9a88" stroke-opacity="0.5" stroke-width="4.0"/><line x1="943.68" y1="146.99" x2="945.98" y2="137.77" stroke="#f1e91b" stroke-width="2.9"/><line x1="949.71" y1="151.45" x2="957.85" y2="146.56" stroke="#9a9a88" stroke-opacity="0.5" stroke-width="4.0"/><line x1="949.71" y1="151.45" x2="957.85" y2="146.56" stroke="#f1e91b" stroke-width="2.9"/><circle cx="941.31" cy="156.50" r="9.2" fill="#f1e91b" stroke="#f6a821" stroke-width="1.2"/><g transform="translate(901.56,131.95) scale(0.07179)" stroke="#2b5cab" stroke-width="33.4" stroke-linejoin="round" stroke-linecap="round"><path d="M325 598C290 640 200 640 170 580C140 510 190 410 300 428C305 380 360 345 410 352C460 358 500 400 495 455C560 450 610 510 595 570C580 630 500 650 440 640C390 632 350 620 325 598Z" fill="#dcdcdc"/><path d="M495 455C465 455 428 470 425 505" fill="none"/></g>
<line x1="1021.51" y1="158.67" x2="1030.73" y2="160.97" stroke="#9a9a88" stroke-opacity="0.5" stroke-width="4.0"/><line x1="1021.51" y1="158.67" x2="1030.73" y2="160.97" stroke="#f1e91b" stroke-width="2.9"/><line x1="1017.05" y1="164.70" x2="1021.94" y2="172.84" stroke="#9a9a88" stroke-opacity="0.5" stroke-width="4.0"/><line x1="1017.05" y1="164.70" x2="1021.94" y2="172.84" stroke="#f1e91b" stroke-width="2.9"/><line x1="1009.63" y1="165.81" x2="1007.33" y2="175.03" stroke="#9a9a88" stroke-opacity="0.5" stroke-width="4.0"/><line x1="1009.63" y1="165.81" x2="1007.33" y2="175.03" stroke="#f1e91b" stroke-width="2.9"/><line x1="1003.60" y1="161.35" x2="995.46" y2="166.24" stroke="#9a9a88" stroke-opacity="0.5" stroke-width="4.0"/><line x1="1003.60" y1="161.35" x2="995.46" y2="166.24" stroke="#f1e91b" stroke-width="2.9"/><line x1="1002.49" y1="153.93" x2="993.27" y2="151.63" stroke="#9a9a88" stroke-opacity="0.5" stroke-width="4.0"/><line x1="1002.49" y1="153.93" x2="993.27" y2="151.63" stroke="#f1e91b" stroke-width="2.9"/><line x1="1006.95" y1="147.90" x2="1002.06" y2="139.76" stroke="#9a9a88" stroke-opacity="0.5" stroke-width="4.0"/><line x1="1006.95" y1="147.90" x2="1002.06" y2="139.76" stroke="#f1e91b" stroke-width="2.9"/><line x1="1014.37" y1="146.79" x2="1016.67" y2="137.57" stroke="#9a9a88" stroke-opacity="0.5" stroke-width="4.0"/><line x1="1014.37" y1="146.79" x2="1016.67" y2="137.57" stroke="#f1e91b" stroke-width="2.9"/><line x1="1020.40" y1="151.25" x2="1028.54" y2="146.36" stroke="#9a9a88" stroke-opacity="0.5" stroke-width="4.0"/><line x1="1020.40" y1="151.25" x2="1028.54" y2="146.36" stroke="#f1e91b" stroke-width="2.9"/><circle cx="1012.00" cy="156.30" r="9.2" fill="#f1e91b" stroke="#f6a821" stroke-width="1.2"/><g transform="translate(1002.86,137.12) scale(0.05815)" stroke="#2b5cab" stroke-width="41.3" stroke-linejoin="round" stroke-linecap="round"><path d="M325 598C290 640 200 640 170 580C140 510 190 410 300 428C305 380 360 345 410 352C460 358 500 400 495 455C560 450 610 510 595 570C580 630 500 650 440 640C390 632 350 620 325 598Z" fill="#fcfcfc"/><path d="M495 455C465 455 428 470 425 505" fill="none"/></g>
<line x1="1108.51" y1="158.87" x2="1117.73" y2="161.17" stroke="#9a9a88" stroke-opacity="0.5" stroke-width="4.0"/><line x1="1108.51" y1="158.87" x2="1117.73" y2="161.17" stroke="#f1e91b" stroke-width="2.9"/><line x1="1104.05" y1="164.90" x2="1108.94" y2="173.04" stroke="#9a9a88" stroke-opacity="0.5" stroke-width="4.0"/><line x1="1104.05" y1="164.90" x2="1108.94" y2="173.04" stroke="#f1e91b" stroke-width="2.9"/><line x1="1096.63" y1="166.01" x2="1094.33" y2="175.23" stroke="#9a9a88" stroke-opacity="0.5" stroke-width="4.0"/><line x1="1096.63" y1="166.01" x2="1094.33" y2="175.23" stroke="#f1e91b" stroke-width="2.9"/><line x1="1090.60" y1="161.55" x2="1082.46" y2="166.44" stroke="#9a9a88" stroke-opacity="0.5" stroke-width="4.0"/><line x1="1090.60" y1="161.55" x2="1082.46" y2="166.44" stroke="#f1e91b" stroke-width="2.9"/><line x1="1089.49" y1="154.13" x2="1080.27" y2="151.83" stroke="#9a9a88" stroke-opacity="0.5" stroke-width="4.0"/><line x1="1089.49" y1="154.13" x2="1080.27" y2="151.83" stroke="#f1e91b" stroke-width="2.9"/><line x1="1093.95" y1="148.10" x2="1089.06" y2="139.96" stroke="#9a9a88" stroke-opacity="0.5" stroke-width="4.0"/><line x1="1093.95" y1="148.10" x2="1089.06" y2="139.96" stroke="#f1e91b" stroke-width="2.9"/><line x1="1101.37" y1="146.99" x2="1103.67" y2="137.77" stroke="#9a9a88" stroke-opacity="0.5" stroke-width="4.0"/><line x1="1101.37" y1="146.99" x2="1103.67" y2="137.77" stroke="#f1e91b" stroke-width="2.9"/><line x1="1107.40" y1="151.45" x2="1115.54" y2="146.56" stroke="#9a9a88" stroke-opacity="0.5" stroke-width="4.0"/><line x1="1107.40" y1="151.45" x2="1115.54" y2="146.56" stroke="#f1e91b" stroke-width="2.9"/><circle cx="1099.00" cy="156.50" r="9.2" fill="#f1e91b" stroke="#f6a821" stroke-width="1.2"/><g transform="translate(1059.25,131.95) scale(0.07179)" stroke="#2b5cab" stroke-width="33.4" stroke-linejoin="round" stroke-linecap="round"><path d="M325 598C290 640 200 640 170 580C140 510 190 410 300 428C305 380 360 345 410 352C460 358 500 400 495 455C560 450 610 510 595 570C580 630 500 650 440 640C390 632 350 620 325 598Z" fill="#dcdcdc"/><path d="M495 455C465 455 428 470 425 505" fill="none"/></g>
<text x="579.5" y="392.2" transform="scale(1,1.04)" font-family="Liberation Sans, Arial, sans-serif" font-size="23.8" fill="#000" text-anchor="middle">Temperatura (°C)</text>
<clipPath id="c1"><rect x="69.5" y="417.5" width="1025.0" height="197.0"/></clipPath>
<g clip-path="url(#c1)">
<polygon points="69.5,537.2 148.3,565.9 227.2,552.3 306.0,516.2 384.9,496.7 463.7,480.5 542.6,483.0 621.4,477.7 700.3,487.2 779.1,490.8 858.0,484.5 936.8,487.9 1015.7,489.0 1094.5,489.8 1094.5,563.0 1015.7,559.7 936.8,551.8 858.0,545.4 779.1,540.9 700.3,533.7 621.4,523.3 542.6,516.8 463.7,511.9 384.9,525.6 306.0,548.8 227.2,582.4 148.3,587.6 69.5,553.7" fill="#6495ed" fill-opacity="0.5"/>
<polygon points="69.5,472.9 148.3,479.0 227.2,456.6 306.0,446.0 384.9,449.3 463.7,446.6 542.6,441.8 621.4,431.4 700.3,432.6 779.1,433.0 858.0,429.2 936.8,432.6 1015.7,430.2 1094.5,424.6 1094.5,498.0 1015.7,501.2 936.8,500.3 858.0,494.0 779.1,482.7 700.3,479.5 621.4,477.0 542.6,475.5 463.7,476.4 384.9,478.2 306.0,481.0 227.2,486.4 148.3,501.1 69.5,489.8" fill="#32cd32" fill-opacity="0.4"/>
<rect x="69.5" y="445.0" width="1025.0" height="2" fill="#000" fill-opacity="0.14"/>
<rect x="69.5" y="502.0" width="1025.0" height="2" fill="#000" fill-opacity="0.14"/>
<rect x="69.5" y="558.0" width="1025.0" height="2" fill="#000" fill-opacity="0.14"/>
<rect x="226" y="417.5" width="2" height="197.0" fill="#000" fill-opacity="0.14"/>
<rect x="384" y="417.5" width="2" height="197.0" fill="#000" fill-opacity="0.14"/>
<rect x="542" y="417.5" width="2" height="197.0" fill="#000" fill-opacity="0.14"/>
<rect x="699" y="417.5" width="2" height="197.0" fill="#000" fill-opacity="0.14"/>
<rect x="857" y="417.5" width="2" height="197.0" fill="#000" fill-opacity="0.14"/>
<rect x="1015" y="417.5" width="2" height="197.0" fill="#000" fill-opacity="0.14"/>
<polyline points="69.5,481.2 148.3,490.0 227.2,471.8 306.0,463.6 384.9,463.8 463.7,461.5 542.6,458.6 621.4,454.0 700.3,455.8 779.1,457.4 858.0,460.1 936.8,466.4 1015.7,465.2 1094.5,461.0" fill="none" stroke="#ff0000" stroke-width="5.6" stroke-linejoin="round"/>
<polyline points="69.5,545.6 148.3,576.7 227.2,567.0 306.0,532.1 384.9,511.0 463.7,496.3 542.6,500.2 621.4,501.0 700.3,510.5 779.1,515.2 858.0,513.4 936.8,519.5 1015.7,524.8 1094.5,526.8" fill="none" stroke="#1e90ff" stroke-width="5.6" stroke-linejoin="round"/>
</g>
<line x1="69.5" x2="75.0" y1="604.5" y2="604.5" stroke="#333" stroke-width="1"/>
<line x1="69.5" x2="75.0" y1="592.5" y2="592.5" stroke="#333" stroke-width="1"/>
<line x1="69.5" x2="75.0" y1="581.5" y2="581.5" stroke="#333" stroke-width="1"/>
<line x1="69.5" x2="75.0" y1="570.5" y2="570.5" stroke="#333" stroke-width="1"/>
<line x1="69.5" x2="75.0" y1="547.5" y2="547.5" stroke="#333" stroke-width="1"/>
<line x1="69.5" x2="75.0" y1="536.5" y2="536.5" stroke="#333" stroke-width="1"/>
<line x1="69.5" x2="75.0" y1="525.5" y2="525.5" stroke="#333" stroke-width="1"/>
<line x1="69.5" x2="75.0" y1="514.5" y2="514.5" stroke="#333" stroke-width="1"/>
<line x1="69.5" x2="75.0" y1="491.5" y2="491.5" stroke="#333" stroke-width="1"/>
<line x1="69.5" x2="75.0" y1="480.5" y2="480.5" stroke="#333" stroke-width="1"/>
<line x1="69.5" x2="75.0" y1="469.5" y2="469.5" stroke="#333" stroke-width="1"/>
<line x1="69.5" x2="75.0" y1="458.5" y2="458.5" stroke="#333" stroke-width="1"/>
<line x1="69.5" x2="75.0" y1="435.5" y2="435.5" stroke="#333" stroke-width="1"/>
<line x1="69.5" x2="75.0" y1="424.5" y2="424.5" stroke="#333" stroke-width="1"/>
<rect x="69.5" y="417.5" width="1025.0" height="197.0" fill="none" stroke="#1a1a1a" stroke-width="1"/>
<text x="64.2" y="454.1" font-family="DejaVu Sans, Liberation Sans, sans-serif" font-size="19.4" fill="#000" text-anchor="end">20</text>
<text x="64.2" y="511.1" font-family="DejaVu Sans, Liberation Sans, sans-serif" font-size="19.4" fill="#000" text-anchor="end">15</text>
<text x="64.2" y="567.1" font-family="DejaVu Sans, Liberation Sans, sans-serif" font-size="19.4" fill="#000" text-anchor="end">10</text>
<text x="854" y="465.96" transform="scale(1,1.04)" font-family="Liberation Sans, Arial, sans-serif" font-size="19.3" fill="#0000ff" text-anchor="middle">© vreme.us &amp; vreme.pro</text>
<text x="578" y="642.50" transform="scale(1,1.04)" font-family="Liberation Sans, Arial, sans-serif" font-size="23.8" fill="#000" text-anchor="middle">Količina padavin (mm) / Možnost padavin (%)</text>
<text x="69.0" y="692.7" font-family="DejaVu Sans, Liberation Sans, sans-serif" font-size="19.4" fill="#000" text-anchor="middle">ned</text>
<text x="147.8" y="692.7" font-family="DejaVu Sans, Liberation Sans, sans-serif" font-size="19.4" fill="#000" text-anchor="middle">pon</text>
<text x="226.7" y="692.7" font-family="DejaVu Sans, Liberation Sans, sans-serif" font-size="19.4" fill="#000" text-anchor="middle">tor</text>
<text x="305.5" y="692.7" font-family="DejaVu Sans, Liberation Sans, sans-serif" font-size="19.4" fill="#000" text-anchor="middle">sre</text>
<text x="384.4" y="692.7" font-family="DejaVu Sans, Liberation Sans, sans-serif" font-size="19.4" fill="#000" text-anchor="middle">čet</text>
<text x="463.2" y="692.7" font-family="DejaVu Sans, Liberation Sans, sans-serif" font-size="19.4" fill="#000" text-anchor="middle">pet</text>
<text x="542.1" y="692.7" font-family="DejaVu Sans, Liberation Sans, sans-serif" font-size="19.4" fill="#000" text-anchor="middle">sob</text>
<text x="620.9" y="692.7" font-family="DejaVu Sans, Liberation Sans, sans-serif" font-size="19.4" fill="#000" text-anchor="middle">ned</text>
<text x="699.8" y="692.7" font-family="DejaVu Sans, Liberation Sans, sans-serif" font-size="19.4" fill="#000" text-anchor="middle">pon</text>
<text x="778.6" y="692.7" font-family="DejaVu Sans, Liberation Sans, sans-serif" font-size="19.4" fill="#000" text-anchor="middle">tor</text>
<text x="857.5" y="692.7" font-family="DejaVu Sans, Liberation Sans, sans-serif" font-size="19.4" fill="#000" text-anchor="middle">sre</text>
<text x="936.3" y="692.7" font-family="DejaVu Sans, Liberation Sans, sans-serif" font-size="19.4" fill="#000" text-anchor="middle">čet</text>
<text x="1015.2" y="692.7" font-family="DejaVu Sans, Liberation Sans, sans-serif" font-size="19.4" fill="#000" text-anchor="middle">pet</text>
<text x="1094.0" y="692.7" font-family="DejaVu Sans, Liberation Sans, sans-serif" font-size="19.4" fill="#000" text-anchor="middle">sob</text>
<clipPath id="c2"><rect x="69.5" y="700.5" width="1025.0" height="197.0"/></clipPath>
<g clip-path="url(#c2)">
<rect x="69.5" y="701.2" width="1025.0" height="2" fill="#000" fill-opacity="0.14"/>
<rect x="69.5" y="750.0" width="1025.0" height="2" fill="#000" fill-opacity="0.14"/>
<rect x="69.5" y="798.0" width="1025.0" height="2" fill="#000" fill-opacity="0.14"/>
<rect x="69.5" y="847.0" width="1025.0" height="2" fill="#000" fill-opacity="0.14"/>
<rect x="226" y="700.5" width="2" height="197.0" fill="#000" fill-opacity="0.14"/>
<rect x="384" y="700.5" width="2" height="197.0" fill="#000" fill-opacity="0.14"/>
<rect x="542" y="700.5" width="2" height="197.0" fill="#000" fill-opacity="0.14"/>
<rect x="699" y="700.5" width="2" height="197.0" fill="#000" fill-opacity="0.14"/>
<rect x="857" y="700.5" width="2" height="197.0" fill="#000" fill-opacity="0.14"/>
<rect x="1015" y="700.5" width="2" height="197.0" fill="#000" fill-opacity="0.14"/>
<rect x="43" y="885" width="52" height="12.5" fill="#0050ff"/>
<rect x="201" y="895" width="52" height="2.5" fill="#0050ff"/>
<rect x="279" y="869" width="53" height="28.5" fill="#0050ff"/>
<rect x="358" y="878" width="53" height="19.5" fill="#0050ff"/>
<rect x="437" y="825" width="53" height="72.5" fill="#0050ff"/>
<rect x="516" y="887" width="52" height="10.5" fill="#0050ff"/>
<rect x="595" y="829" width="52" height="68.5" fill="#0050ff"/>
<line x1="69.5" x2="69.5" y1="766.5" y2="900.0" stroke="#808080" stroke-width="3"/>
<line x1="59.0" x2="80.0" y1="766.5" y2="766.5" stroke="#808080" stroke-width="3"/>
<line x1="138.0" x2="159.0" y1="897.5" y2="897.5" stroke="#808080" stroke-width="3"/>
<line x1="227.5" x2="227.5" y1="894.3" y2="896.0" stroke="#808080" stroke-width="3"/>
<line x1="217.0" x2="238.0" y1="894.3" y2="894.3" stroke="#808080" stroke-width="3"/>
<line x1="217.0" x2="238.0" y1="896.0" y2="896.0" stroke="#808080" stroke-width="3"/>
<line x1="306.5" x2="306.5" y1="843.5" y2="895.5" stroke="#808080" stroke-width="3"/>
<line x1="296.0" x2="317.0" y1="843.5" y2="843.5" stroke="#808080" stroke-width="3"/>
<line x1="296.0" x2="317.0" y1="895.5" y2="895.5" stroke="#808080" stroke-width="3"/>
<line x1="384.5" x2="384.5" y1="763.5" y2="900.0" stroke="#808080" stroke-width="3"/>
<line x1="374.0" x2="395.0" y1="763.5" y2="763.5" stroke="#808080" stroke-width="3"/>
<line x1="463.5" x2="463.5" y1="717.5" y2="900.0" stroke="#808080" stroke-width="3"/>
<line x1="453.0" x2="474.0" y1="717.5" y2="717.5" stroke="#808080" stroke-width="3"/>
<line x1="542.5" x2="542.5" y1="790.5" y2="900.0" stroke="#808080" stroke-width="3"/>
<line x1="532.0" x2="553.0" y1="790.5" y2="790.5" stroke="#808080" stroke-width="3"/>
<line x1="621.5" x2="621.5" y1="715.5" y2="900.0" stroke="#808080" stroke-width="3"/>
<line x1="611.0" x2="632.0" y1="715.5" y2="715.5" stroke="#808080" stroke-width="3"/>
<line x1="690.0" x2="711.0" y1="897.5" y2="897.5" stroke="#808080" stroke-width="3"/>
<line x1="769.0" x2="790.0" y1="897.5" y2="897.5" stroke="#808080" stroke-width="3"/>
<line x1="847.0" x2="868.0" y1="897.5" y2="897.5" stroke="#808080" stroke-width="3"/>
<line x1="926.0" x2="947.0" y1="897.5" y2="897.5" stroke="#808080" stroke-width="3"/>
<line x1="1005.0" x2="1026.0" y1="897.5" y2="897.5" stroke="#808080" stroke-width="3"/>
<line x1="1084.0" x2="1105.0" y1="897.5" y2="897.5" stroke="#808080" stroke-width="3"/>
</g>
<rect x="69.5" y="700.5" width="1025.0" height="197.0" fill="none" stroke="#1a1a1a" stroke-width="1"/>
<text x="64.5" y="697.9" font-family="DejaVu Sans, Liberation Sans, sans-serif" font-size="19.4" fill="#000" text-anchor="end">20</text>
<text x="64.5" y="758.2" font-family="DejaVu Sans, Liberation Sans, sans-serif" font-size="19.4" fill="#000" text-anchor="end">15</text>
<text x="64.5" y="807.2" font-family="DejaVu Sans, Liberation Sans, sans-serif" font-size="19.4" fill="#000" text-anchor="end">10</text>
<text x="65.2" y="856.4" font-family="DejaVu Sans, Liberation Sans, sans-serif" font-size="19.4" fill="#000" text-anchor="end">5</text>
<text x="65.2" y="893.1" font-family="DejaVu Sans, Liberation Sans, sans-serif" font-size="19.4" fill="#000" text-anchor="end">0</text>
<text x="69.8" y="926.7" font-family="DejaVu Sans, Liberation Sans, sans-serif" font-size="24.1" letter-spacing="-0.6" fill="#1a66b3" text-anchor="middle">55%</text>
<text x="148.6" y="926.7" font-family="DejaVu Sans, Liberation Sans, sans-serif" font-size="24.1" letter-spacing="-0.6" fill="#3399d2" text-anchor="middle">25%</text>
<text x="227.5" y="926.7" font-family="DejaVu Sans, Liberation Sans, sans-serif" font-size="24.1" letter-spacing="-0.6" fill="#3399d2" text-anchor="middle">25%</text>
<text x="306.3" y="926.7" font-family="DejaVu Sans, Liberation Sans, sans-serif" font-size="24.1" letter-spacing="-0.6" fill="#1a66b3" text-anchor="middle">55%</text>
<text x="385.2" y="926.7" font-family="DejaVu Sans, Liberation Sans, sans-serif" font-size="24.1" letter-spacing="-0.6" fill="#1a66b3" text-anchor="middle">70%</text>
<text x="464.0" y="926.7" font-family="DejaVu Sans, Liberation Sans, sans-serif" font-size="24.1" letter-spacing="-0.6" fill="#1a66b3" text-anchor="middle">75%</text>
<text x="542.9" y="926.7" font-family="DejaVu Sans, Liberation Sans, sans-serif" font-size="24.1" letter-spacing="-0.6" fill="#1a66b3" text-anchor="middle">80%</text>
<text x="621.7" y="926.7" font-family="DejaVu Sans, Liberation Sans, sans-serif" font-size="24.1" letter-spacing="-0.6" fill="#1a66b3" text-anchor="middle">50%</text>
<text x="700.6" y="926.7" font-family="DejaVu Sans, Liberation Sans, sans-serif" font-size="24.1" letter-spacing="-0.6" fill="#3399d2" text-anchor="middle">45%</text>
<text x="779.4" y="926.7" font-family="DejaVu Sans, Liberation Sans, sans-serif" font-size="24.1" letter-spacing="-0.6" fill="#3399d2" text-anchor="middle">40%</text>
<text x="858.3" y="926.7" font-family="DejaVu Sans, Liberation Sans, sans-serif" font-size="24.1" letter-spacing="-0.6" fill="#3399d2" text-anchor="middle">40%</text>
<text x="937.1" y="926.7" font-family="DejaVu Sans, Liberation Sans, sans-serif" font-size="24.1" letter-spacing="-0.6" fill="#3399d2" text-anchor="middle">45%</text>
<text x="1016.0" y="926.7" font-family="DejaVu Sans, Liberation Sans, sans-serif" font-size="24.1" letter-spacing="-0.6" fill="#3399d2" text-anchor="middle">40%</text>
<text x="1094.8" y="926.7" font-family="DejaVu Sans, Liberation Sans, sans-serif" font-size="24.1" letter-spacing="-0.6" fill="#3399d2" text-anchor="middle">40%</text>
</svg></body></html>
